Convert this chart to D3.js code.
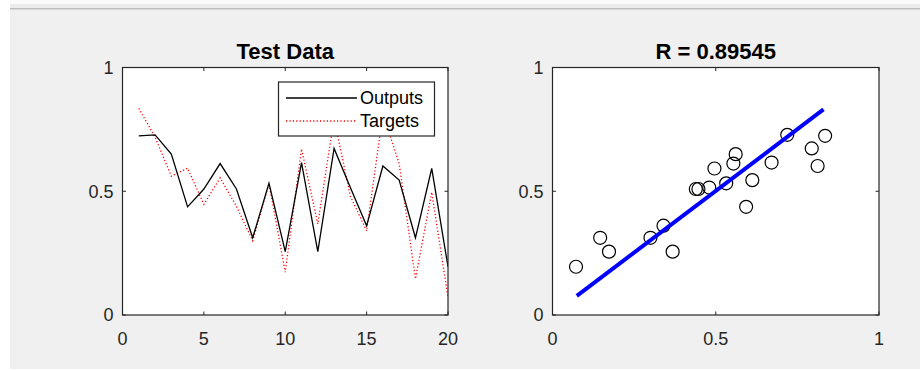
<!DOCTYPE html>
<html>
<head>
<meta charset="utf-8">
<script src="https://cdn.jsdelivr.net/npm/d3@7"></script>
<style>
  body { margin: 0; background: #f0f0f0; }
  svg { display: block; font-family: "Liberation Sans", Arial, sans-serif; }
  .tick-label { font-size: 18px; fill: #262626; }
  .title { font-size: 22px; font-weight: bold; fill: #000; }
  .legend-text { font-size: 18px; fill: #000; }
</style>
</head>
<body>
<svg id="fig" width="920" height="370"></svg>
<script>
// ── Data ──────────────────────────────────────────────────────
const SAMPLES = d3.range(1, 21);
const OUTPUTS = [0.724, 0.728, 0.650, 0.437, 0.509, 0.612, 0.509, 0.312, 0.532, 0.256,
                 0.616, 0.256, 0.673, 0.515, 0.361, 0.602, 0.545, 0.312, 0.592, 0.195];
const TARGETS = [0.835, 0.719, 0.561, 0.593, 0.447, 0.554, 0.439, 0.300, 0.532, 0.173,
                 0.671, 0.368, 0.794, 0.480, 0.340, 0.812, 0.612, 0.146, 0.496, 0.072];
const FIT_RANGE = [0.0745, 0.830];
const FIT_SLOPE = 0.997;
const FIT_INTERCEPT = 0.003;
const R_VALUE = '0.89545';

const LEFT_XTICKS = [0, 5, 10, 15, 20];
const RIGHT_XTICKS = [0, 0.5, 1];
const YTICKS = [0, 0.5, 1];

const svg = d3.select('#fig');

// ── Window chrome ─────────────────────────────────────────────
svg.append('rect').attr('width', 920).attr('height', 370).attr('fill', '#f0f0f0');
svg.append('rect').attr('width', 920).attr('height', 4).attr('fill', '#fafafa');
svg.append('rect').attr('y', 4).attr('width', 920).attr('height', 4).attr('fill', '#ececec');
svg.append('rect').attr('y', 8).attr('width', 920).attr('height', 1.5).attr('fill', '#bdbdbd');
svg.append('rect').attr('width', 10).attr('height', 370).attr('fill', '#ffffff');
svg.append('rect').attr('y', 369).attr('width', 920).attr('height', 1).attr('fill', '#ffffff');

// ── Axes helper ───────────────────────────────────────────────
function makeAxes(box, xDomain, xTicks, title) {
  const x = d3.scaleLinear().domain(xDomain).range([box.x0, box.x1]);
  const y = d3.scaleLinear().domain([0, 1]).range([box.y1, box.y0]);
  const g = svg.append('g');

  g.append('rect')
    .attr('x', box.x0).attr('y', box.y0)
    .attr('width', box.x1 - box.x0).attr('height', box.y1 - box.y0)
    .attr('fill', '#fff');

  const clipId = 'clip' + Math.round(box.x0);
  svg.append('clipPath').attr('id', clipId).append('rect')
    .attr('x', box.x0).attr('y', box.y0)
    .attr('width', box.x1 - box.x0).attr('height', box.y1 - box.y0);
  const plot = g.append('g').attr('clip-path', `url(#${clipId})`);

  const over = svg.append('g');
  const TL = 3.5;
  const tickG = over.append('g').attr('stroke', '#262626').attr('stroke-width', 1);
  xTicks.forEach(t => {
    tickG.append('line').attr('x1', x(t)).attr('x2', x(t)).attr('y1', box.y1).attr('y2', box.y1 - TL);
    tickG.append('line').attr('x1', x(t)).attr('x2', x(t)).attr('y1', box.y0).attr('y2', box.y0 + TL);
  });
  YTICKS.forEach(t => {
    tickG.append('line').attr('y1', y(t)).attr('y2', y(t)).attr('x1', box.x0).attr('x2', box.x0 + TL);
    tickG.append('line').attr('y1', y(t)).attr('y2', y(t)).attr('x1', box.x1).attr('x2', box.x1 - TL);
  });

  over.append('rect')
    .attr('x', box.x0).attr('y', box.y0)
    .attr('width', box.x1 - box.x0).attr('height', box.y1 - box.y0)
    .attr('fill', 'none').attr('stroke', '#262626').attr('stroke-width', 1.2);

  over.selectAll('.xl').data(xTicks).join('text')
    .attr('class', 'tick-label')
    .attr('x', d => x(d)).attr('y', box.y1 + 30)
    .attr('text-anchor', 'middle')
    .text(d => d3.format('~g')(d));

  over.selectAll('.yl').data(YTICKS).join('text')
    .attr('class', 'tick-label')
    .attr('x', box.x0 - 9).attr('y', d => y(d)).attr('dy', '0.35em')
    .attr('text-anchor', 'end')
    .text(d => d3.format('~g')(d));

  over.append('text')
    .attr('class', 'title')
    .attr('x', (box.x0 + box.x1) / 2).attr('y', box.y0 - 9)
    .attr('text-anchor', 'middle')
    .text(title);

  return { x, y, plot, over };
}

// ── Left: time series ─────────────────────────────────────────
const L = makeAxes({ x0: 122.5, x1: 448, y0: 67.5, y1: 315 }, [0, 20], LEFT_XTICKS, 'Test Data');

const lineL = d3.line().x((d, i) => L.x(SAMPLES[i])).y(d => L.y(d));

L.plot.append('path')
  .attr('d', lineL(TARGETS))
  .attr('fill', 'none').attr('stroke', '#ff0000').attr('stroke-width', 1.3)
  .attr('stroke-dasharray', '1.2,2.2');

L.plot.append('path')
  .attr('d', lineL(OUTPUTS))
  .attr('fill', 'none').attr('stroke', '#000').attr('stroke-width', 1.3);

// Legend (opaque, drawn on top of the lines)
const leg = L.plot.append('g');
leg.append('rect')
  .attr('x', 278.5).attr('y', 82).attr('width', 156).attr('height', 54)
  .attr('fill', '#fff').attr('stroke', '#262626').attr('stroke-width', 1.2);
leg.append('line').attr('x1', 286).attr('x2', 357).attr('y1', 98).attr('y2', 98)
  .attr('stroke', '#000').attr('stroke-width', 1.3);
leg.append('line').attr('x1', 286).attr('x2', 357).attr('y1', 121).attr('y2', 121)
  .attr('stroke', '#ff0000').attr('stroke-width', 1.3).attr('stroke-dasharray', '1.2,2.2');
leg.append('text').attr('class', 'legend-text').attr('x', 360).attr('y', 98).attr('dy', '0.35em').text('Outputs');
leg.append('text').attr('class', 'legend-text').attr('x', 360).attr('y', 121).attr('dy', '0.35em').text('Targets');

// ── Right: regression ─────────────────────────────────────────
const R = makeAxes({ x0: 552.5, x1: 879, y0: 67.5, y1: 315 }, [0, 1], RIGHT_XTICKS, 'R = ' + R_VALUE);

R.plot.selectAll('circle')
  .data(TARGETS.map((t, i) => [t, OUTPUTS[i]]))
  .join('circle')
  .attr('cx', d => R.x(d[0])).attr('cy', d => R.y(d[1]))
  .attr('r', 6.5)
  .attr('fill', 'none').attr('stroke', '#000').attr('stroke-width', 1.2);

R.plot.append('line')
  .attr('x1', R.x(FIT_RANGE[0])).attr('y1', R.y(FIT_SLOPE * FIT_RANGE[0] + FIT_INTERCEPT))
  .attr('x2', R.x(FIT_RANGE[1])).attr('y2', R.y(FIT_SLOPE * FIT_RANGE[1] + FIT_INTERCEPT))
  .attr('stroke', '#0000ff').attr('stroke-width', 4);
</script>
</body>
</html>
